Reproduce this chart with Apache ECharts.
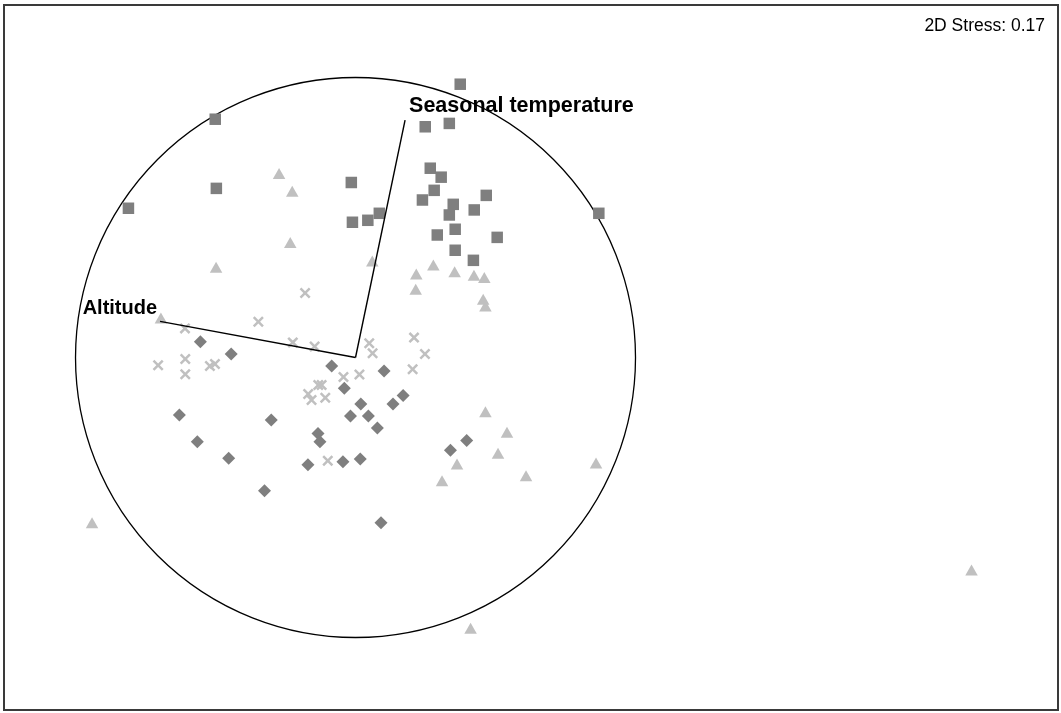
<!DOCTYPE html>
<html>
<head>
<meta charset="utf-8">
<title>nMDS ordination</title>
<script src="https://cdn.jsdelivr.net/npm/echarts@6/dist/echarts.min.js"></script>
<style>
  html, body { margin: 0; padding: 0; background: #ffffff; }
  #chart { width: 1061px; height: 713px; }
</style>
</head>
<body>
<div id="chart"></div>
<script>
// nMDS ordination scores (axis 1, axis 2), one array per group
const groupSquare = [
  [0.374, 0.976], [-0.501, 0.851], [0.249, 0.824], [0.335, 0.836],
  [0.267, 0.676], [0.306, 0.644], [-0.015, 0.625], [-0.497, 0.604],
  [0.281, 0.597], [0.467, 0.579], [0.239, 0.5625], [0.349, 0.547],
  [-0.811, 0.533], [0.424, 0.527], [0.335, 0.509], [0.085, 0.515],
  [0.869, 0.515], [0.044, 0.490], [-0.011, 0.483], [0.356, 0.458],
  [0.292, 0.4375], [0.506, 0.429], [0.356, 0.383], [0.421, 0.347]
];
const groupTriangle = [
  [-0.273, 0.657], [-0.226, 0.594], [-0.233, 0.411], [-0.498, 0.322],
  [0.060, 0.345], [0.278, 0.330], [0.217, 0.298], [0.354, 0.306],
  [0.423, 0.294], [0.460, 0.286], [0.215, 0.244], [0.456, 0.208],
  [0.464, 0.184], [-0.695, 0.141], [0.464, -0.194], [0.541, -0.267],
  [0.509, -0.342], [0.3625, -0.380], [0.609, -0.422], [0.309, -0.440],
  [0.859, -0.377], [-0.941, -0.590], [2.200, -0.759], [0.411, -0.967]
];
const groupCross = [
  [-0.180, 0.230], [-0.347, 0.128], [-0.609, 0.104], [-0.224, 0.054],
  [-0.146, 0.039], [0.049, 0.051], [0.061, 0.015], [0.209, 0.071],
  [0.248, 0.0125], [0.204, -0.042], [-0.608, -0.005], [-0.705, -0.028],
  [-0.520, -0.030], [-0.502, -0.023], [-0.608, -0.060], [-0.043, -0.070],
  [0.014, -0.061], [-0.133, -0.098], [-0.121, -0.098], [-0.169, -0.130],
  [-0.157, -0.152], [-0.108, -0.144], [-0.099, -0.369]
];
const groupDiamond = [
  [-0.554, 0.056], [-0.444, 0.0125], [-0.085, -0.030], [0.102, -0.048],
  [-0.040, -0.110], [0.170, -0.136], [0.134, -0.166], [0.019, -0.166],
  [-0.629, -0.205], [-0.301, -0.223], [-0.018, -0.209], [0.046, -0.209],
  [0.078, -0.252], [-0.134, -0.271], [-0.127, -0.301], [0.397, -0.296],
  [0.339, -0.331], [-0.565, -0.301], [-0.453, -0.360], [-0.170, -0.383],
  [-0.045, -0.3725], [0.017, -0.3625], [-0.325, -0.476], [0.091, -0.590]
];

// Environmental vectors (correlation with the ordination axes)
const vectorNames = ['Seasonal temperature', 'Altitude'];
const vectorEnds = [[0.177, 0.848], [-0.698, 0.129]];

const stressText = '2D Stress: 0.17';

// axis extents of the plotting frame
const xRange = [-1.2554, 2.5089];
const yRange = [-1.2589, 1.2589];

const crossPath = 'path://M0,1.6L1.6,0L5,3.4L8.4,0L10,1.6L6.6,5L10,8.4L8.4,10L5,6.6L1.6,10L0,8.4L3.4,5Z';

const dark = '#7f7f7f';
const light = '#c0c0c0';
const fontFamily = '"Liberation Sans", Arial, Helvetica, sans-serif';

const chart = echarts.init(document.getElementById('chart'), null, { renderer: 'canvas' });

const vectorSeries = vectorEnds.map(function (end) {
  return {
    type: 'line',
    data: [[0, 0], end],
    symbol: 'none',
    silent: true,
    animation: false,
    z: 3,
    lineStyle: { color: '#000000', width: 1.4 }
  };
});

const labelBase = { show: true, formatter: '{b}', fontFamily: fontFamily, fontWeight: 'bold', color: '#000000' };

chart.setOption({
  animation: false,
  backgroundColor: '#ffffff',
  title: {
    text: stressText,
    right: 11,
    top: 12,
    textStyle: { fontFamily: fontFamily, fontSize: 17.5, fontWeight: 'normal', color: '#000000' }
  },
  grid: {
    left: 4, right: 3, top: 5, bottom: 3,
    show: true,
    borderColor: '#3a3a3a',
    borderWidth: 2,
    backgroundColor: 'transparent'
  },
  xAxis: {
    type: 'value', min: xRange[0], max: xRange[1],
    show: false, splitLine: { show: false }
  },
  yAxis: {
    type: 'value', min: yRange[0], max: yRange[1],
    show: false, splitLine: { show: false }
  },
  series: [
    {
      // unit correlation circle
      type: 'custom',
      silent: true,
      z: 1,
      data: [[0, 0, 1]],
      renderItem: function (params, api) {
        const c = api.coord([api.value(0), api.value(1)]);
        const e = api.coord([api.value(0) + api.value(2), api.value(1)]);
        return {
          type: 'circle',
          shape: { cx: c[0], cy: c[1], r: e[0] - c[0] },
          style: { fill: 'none', stroke: '#000000', lineWidth: 1.3 }
        };
      }
    },
    {
      type: 'scatter', data: groupTriangle, symbol: 'triangle',
      symbolSize: [12.5, 11], z: 2, itemStyle: { color: light, opacity: 1 }
    },
    {
      type: 'scatter', data: groupCross, symbol: crossPath,
      symbolSize: 11, z: 2, itemStyle: { color: light, opacity: 1 }
    },
    {
      type: 'scatter', data: groupSquare, symbol: 'rect',
      symbolSize: 11.5, z: 2, itemStyle: { color: dark, opacity: 1 }
    },
    {
      type: 'scatter', data: groupDiamond, symbol: 'diamond',
      symbolSize: 13, z: 2, itemStyle: { color: dark, opacity: 1 }
    }
  ].concat(vectorSeries).concat([
    {
      // vector labels
      type: 'scatter',
      symbolSize: 0,
      silent: true,
      z: 4,
      itemStyle: { color: '#000000', opacity: 1 },
      data: [
        {
          value: vectorEnds[0], name: vectorNames[0],
          label: Object.assign({}, labelBase, { fontSize: 21.5, position: [4, -14], align: 'left', verticalAlign: 'middle' })
        },
        {
          value: vectorEnds[1], name: vectorNames[1],
          label: Object.assign({}, labelBase, { fontSize: 20, position: [-3, -13], align: 'right', verticalAlign: 'middle' })
        }
      ]
    }
  ])
});
</script>
</body>
</html>
